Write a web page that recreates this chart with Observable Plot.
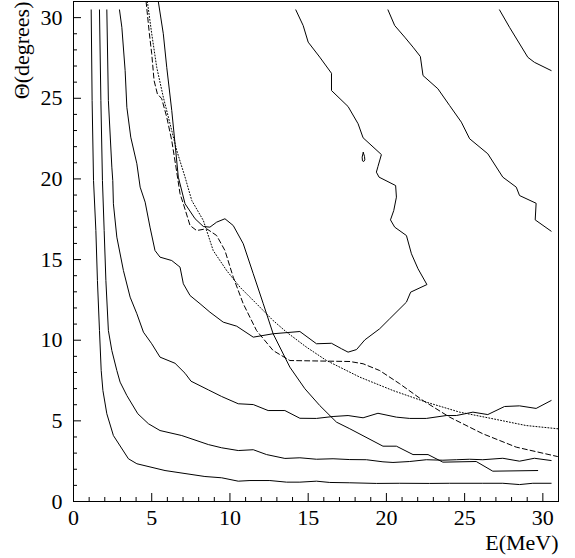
<!DOCTYPE html>
<html><head><meta charset="utf-8">
<script src="https://cdn.jsdelivr.net/npm/d3@7"></script>
<script src="https://cdn.jsdelivr.net/npm/@observablehq/plot@0.6"></script>
<style>body{margin:0;background:#fff}</style>
</head><body><div id="chart"></div>
<script>
// Tick labels / positions
const xMajor = [0,5,10,15,20,25,30];
const xMinor = [1,2,3,4,6,7,8,9,11,12,13,14,16,17,18,19,21,22,23,24,26,27,28,29];
const yMajor = [0,5,10,15,20,25,30];
const yMinor = [1,2,3,4,6,7,8,9,11,12,13,14,16,17,18,19,21,22,23,24,26,27,28,29];

// Contour levels (solid) as [E, Theta]
const c1 = [[1.13,30.48],[1.19,24.86],[1.28,19.90],[1.43,16.80],[1.53,13.70],[1.66,10.60],[1.77,8.12],[1.88,6.88],[2.13,5.44],[2.55,4.09],[3.51,2.65],[4.05,2.34],[5.85,1.92],[8.40,1.55],[9.47,1.47],[10.53,1.26],[11.28,1.30],[12.55,1.30],[13.62,1.20],[14.47,1.20],[15.53,1.26],[16.38,1.18],[17.66,1.16],[19.36,1.12],[20.85,1.13],[22.76,1.12],[24.04,1.13],[26.16,1.13],[27.44,1.13],[28.51,1.05],[29.36,1.13],[30.53,1.13]];
const c2 = [[1.66,30.48],[1.75,24.86],[1.85,19.90],[1.96,16.80],[2.07,13.70],[2.23,10.60],[2.45,9.36],[2.77,8.12],[2.98,7.40],[3.41,6.57],[4.11,5.44],[4.79,4.82],[5.53,4.40],[6.92,4.09],[8.62,3.53],[9.47,3.33],[10.53,3.16],[11.49,3.21],[12.34,2.91],[13.51,2.67],[14.47,2.71],[15.53,2.62],[16.59,2.65],[17.66,2.60],[18.72,2.59],[19.78,2.46],[20.42,2.42],[21.49,2.48],[22.55,2.59],[23.61,2.56],[24.47,2.59],[25.32,2.62],[26.16,2.59],[27.44,2.68],[28.51,2.50],[29.46,2.68],[30.53,2.54]];
const c3 = [[2.13,30.48],[2.23,24.86],[2.45,20.73],[2.51,19.90],[2.55,18.46],[2.77,16.39],[3.19,14.32],[3.62,12.67],[4.05,11.64],[4.47,10.50],[5.00,9.78],[5.53,8.95],[6.49,8.57],[7.13,7.95],[7.51,7.46],[8.62,6.92],[9.47,6.51],[10.53,6.06],[11.49,6.01],[12.44,5.64],[13.51,5.64],[14.47,5.16],[15.53,5.15],[16.59,5.27],[17.55,5.33],[18.51,5.19],[19.46,5.47],[20.64,5.23],[21.49,5.15],[22.55,5.15],[23.83,5.33],[24.47,5.33],[25.53,5.54],[26.48,5.39],[27.55,5.89],[28.51,5.93],[29.57,5.77],[30.53,6.26]];
const c4 = [[2.94,30.48],[3.09,29.40],[3.30,26.72],[3.41,24.44],[3.66,22.59],[4.05,20.94],[4.26,19.49],[4.58,18.56],[4.89,17.01],[5.21,15.56],[5.53,15.15],[6.28,14.94],[6.81,14.53],[7.02,13.50],[7.45,12.77],[8.09,12.26],[8.72,11.74],[9.57,11.12],[10.43,10.87],[11.49,10.19],[12.76,10.40],[14.47,10.54],[15.53,9.78],[16.49,9.81],[17.13,9.47],[17.55,9.26],[18.09,9.42],[18.62,10.02],[19.57,10.71],[20.21,11.33],[21.28,12.36],[21.55,12.98],[22.59,13.45],[22.02,14.43],[21.60,15.36],[21.28,16.49],[20.53,17.01],[20.26,17.46],[20.47,18.04],[20.64,18.87],[20.59,19.59],[19.53,20.11],[19.36,20.42],[19.46,20.77],[19.68,21.51],[18.51,22.55],[18.19,23.42],[17.55,24.49],[16.49,25.48],[16.49,26.55],[15.74,27.55],[15.00,28.48],[14.68,29.51],[14.21,30.48]];
const c4loop = [[18.52,21.64],[18.45,21.35],[18.47,21.12],[18.55,21.08],[18.62,21.18],[18.60,21.40],[18.52,21.64]];
const c5 = [[20.10,30.48],[20.53,29.51],[21.17,28.79],[21.70,28.17],[22.17,27.59],[22.34,26.41],[23.29,25.59],[24.04,24.55],[24.79,23.52],[25.32,22.49],[26.48,21.56],[27.44,20.11],[28.30,19.49],[28.51,18.97],[29.57,18.49],[29.51,17.46],[30.53,16.76]];
const c6 = [[27.23,30.48],[27.87,29.40],[29.04,27.54],[29.46,27.23],[30.53,26.72]];

// Comparison curves
const solidCurve = [[5.42,31.0],[5.74,29.0],[5.96,26.92],[6.28,24.24],[6.49,22.18],[6.70,20.11],[7.13,18.46],[7.77,17.53],[8.30,17.05],[8.72,17.01],[9.15,17.32],[9.68,17.53],[10.21,17.11],[10.85,15.98],[11.49,14.12],[12.13,12.26],[12.76,10.40],[13.83,8.33],[14.79,6.99],[15.74,5.95],[16.81,4.92],[17.66,4.51],[19.78,3.43],[20.64,3.43],[21.70,2.91],[22.66,2.91],[23.61,2.44],[25.74,2.48],[26.80,1.88],[29.67,1.92]];
const dashedCurve = [[4.64,31.0],[4.85,29.0],[5.00,27.76],[5.15,26.10],[5.36,25.28],[5.64,24.97],[5.96,23.83],[6.28,22.38],[6.55,20.73],[6.81,19.08],[7.02,18.46],[7.45,17.11],[7.87,16.80],[8.51,16.91],[9.15,16.49],[9.68,15.56],[10.21,13.91],[10.85,12.26],[11.70,10.60],[12.76,9.36],[13.83,8.74],[17.66,8.68],[18.51,8.54],[19.57,8.12],[20.85,7.30],[22.34,6.26],[24.04,5.23],[26.16,4.20],[28.30,3.37],[30.93,2.79]];
const dottedCurve = [[4.72,31.0],[5.00,29.0],[5.32,26.92],[5.74,25.07],[6.17,23.42],[6.60,21.76],[7.13,20.11],[7.56,18.66],[8.30,17.42],[8.93,15.56],[9.79,14.32],[10.64,13.29],[11.70,12.26],[12.76,11.22],[13.62,10.50],[14.89,9.57],[16.17,8.74],[18.30,7.71],[20.42,6.88],[22.55,6.16],[24.68,5.54],[26.80,5.13],[28.93,4.71],[30.95,4.51]];

const ln = (data, extra = {}) => Plot.line(data, {x: d => d[0], y: d => d[1], stroke: "black", strokeWidth: 1, clip: true, ...extra});

const chart = Plot.plot({
  width: 575, height: 558,
  marginLeft: 73, marginRight: 17, marginTop: 1, marginBottom: 57,
  style: {fontFamily: "Liberation Serif", fontSize: "22px", background: "white", color: "black"},
  x: {domain: [0, 31]},
  y: {domain: [0, 31]},
  marks: [
    ln(c1), ln(c2), ln(c3), ln(c4), ln(c4loop), ln(c5), ln(c6),
    ln(solidCurve),
    ln(dashedCurve, {strokeDasharray: "5,3"}),
    ln(dottedCurve, {strokeDasharray: "1,2"}),
    Plot.frame({stroke: "black", strokeWidth: 1}),
    Plot.tickX(xMinor, {x: d => d, insetTop: 496, stroke: "black"}),
    Plot.tickX(xMajor, {x: d => d, insetTop: 492, stroke: "black"}),
    Plot.tickY(yMinor, {y: d => d, insetRight: 481, stroke: "black"}),
    Plot.tickY(yMajor, {y: d => d, insetRight: 477, stroke: "black"}),
    Plot.axisX({ticks: xMajor, tickSize: 0, tickPadding: 8, label: null}),
    Plot.axisY({ticks: yMajor, tickSize: 0, tickPadding: 11, label: null}),
    Plot.text(["E(MeV)"], {text: d => d, frameAnchor: "bottom-right", textAnchor: "end", lineAnchor: "middle", dy: 41.5}),
    Plot.text(["Θ(degrees)"], {text: d => d, frameAnchor: "top-left", rotate: -90, textAnchor: "end", lineAnchor: "middle", dx: -52})
  ]
});
document.getElementById("chart").appendChild(chart);
</script>
</body></html>
